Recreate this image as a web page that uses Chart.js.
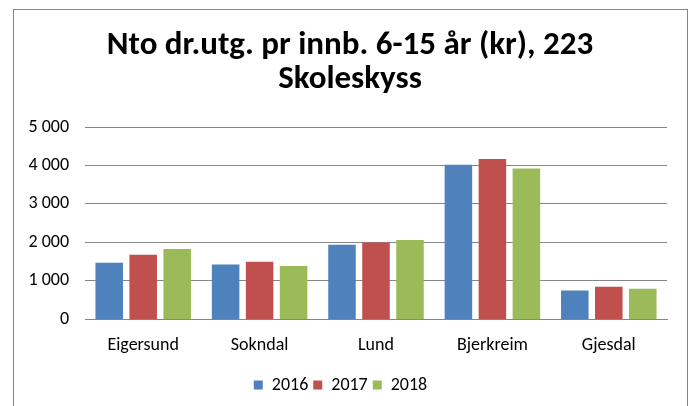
<!DOCTYPE html>
<html><head><meta charset="utf-8">
<script src="https://cdn.jsdelivr.net/npm/chart.js@4"></script>
<style>
html,body{margin:0;padding:0;background:#fff;}
#wrap{position:absolute;left:0;top:0;width:693px;height:406px;overflow:hidden;}
#frame{position:absolute;left:13px;top:9px;width:675px;height:420px;border:1px solid #868686;box-sizing:border-box;}
canvas{position:absolute;left:0;top:0;}
</style></head><body>
<div id="wrap"><div id="frame"></div><canvas id="c" width="693" height="406"></canvas></div>
<script>
const categories = ["Eigersund","Sokndal","Lund","Bjerkreim","Gjesdal"];
const seriesNames = ["2016","2017","2018"];
const v2016 = [1473, 1429, 1940, 4018, 753];
const v2017 = [1680, 1499, 2000, 4166, 849];
const v2018 = [1829, 1387, 2062, 3922, 797];
const colors = ["#4F81BD","#C0504D","#9BBB59"];
const titleLines = ["Nto dr.utg. pr innb. 6-15 år (kr), 223","Skoleskyss"];
const font = "Carlito, 'Liberation Sans Narrow', 'Liberation Sans', sans-serif";

const fmt = v => v === 0 ? "0" : (Math.floor(v/1000) + "\u00a0" + String(v%1000).padStart(3,"0"));

const titlePlugin = {
  id: "customTitle",
  afterDraw(chart) {
    const ctx = chart.ctx;
    ctx.save();
    ctx.fillStyle = "#000";
    ctx.font = "bold 33px " + font;
    ctx.textAlign = "center";
    ctx.textBaseline = "alphabetic";
    ctx.fillText(titleLines[0], 350, 54);
    ctx.fillText(titleLines[1], 350, 88);
    ctx.restore();
  }
};

new Chart(document.getElementById("c"), {
  type: "bar",
  data: {
    labels: categories,
    datasets: [v2016, v2017, v2018].map((d,i)=>({
      label: seriesNames[i], data: d, backgroundColor: colors[i],
      categoryPercentage: 0.876, barPercentage: 0.81
    }))
  },
  options: {
    responsive: false, animation: false,
    layout: {padding: {left: 14, right: 26, top: 127, bottom: 2}},
    plugins: {
      title: {display: false},
      legend: {position: "bottom", labels: {boxWidth: 9, boxHeight: 9, color: "#000",
        font: {family: font, size: 18}, padding: 5}},
      tooltip: {enabled: false}
    },
    scales: {
      x: {grid: {display: false, drawTicks: false}, border: {color: "#868686"},
        ticks: {color: "#000", font: {family: font, size: 18}, padding: 15}},
      y: {min: 0, max: 5000, afterFit: s => { s.width = 71; },
        grid: {color: "#868686", drawTicks: false}, border: {display: false},
        ticks: {stepSize: 1000, color: "#000", font: {family: font, size: 18}, padding: 16,
          callback: v => fmt(v)}}
    }
  },
  plugins: [titlePlugin]
});
</script></body></html>
